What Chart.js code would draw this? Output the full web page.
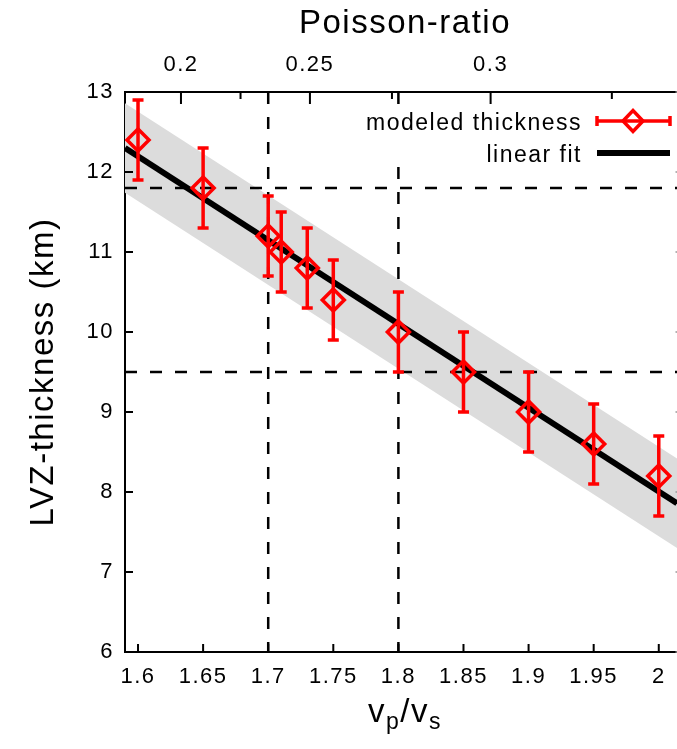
<!DOCTYPE html>
<html>
<head>
<meta charset="utf-8">
<script src="https://cdn.jsdelivr.net/npm/chart.js@4.4.1/dist/chart.umd.min.js"></script>
<style>
  html, body { margin: 0; padding: 0; background: #fff; overflow: hidden; }
  canvas { display: block; }
</style>
</head>
<body>
<canvas id="lvzChart" width="677" height="749"></canvas>
<script>
// Values
const vpvs = [1.6, 1.65, 1.7, 1.71, 1.73, 1.75, 1.8, 1.85, 1.9, 1.95, 2.0];
const thickness = [12.4, 11.8, 11.2, 11.0, 10.8, 10.4, 10.0, 9.5, 9.0, 8.6, 8.2];
const thicknessErr = [0.5, 0.5, 0.5, 0.5, 0.5, 0.5, 0.5, 0.5, 0.5, 0.5, 0.5];

const fitX = [1.59, 2.014];
const fitY = [12.3, 7.86];
const bandUpper = [12.86, 8.42];
const bandLower = [11.74, 7.30];

const refThickness = [11.8, 9.5];
const refVpvs = [1.7, 1.8];

const xTicks = [1.6, 1.65, 1.7, 1.75, 1.8, 1.85, 1.9, 1.95, 2.0];
const yTicks = [6, 7, 8, 9, 10, 11, 12, 13];
const poissonTicks = [0.2, 0.225, 0.25, 0.275, 0.3, 0.325];
const poissonLabels = ['0.2', '', '0.25', '', '0.3', ''];

// the plot frame is cut by the right edge of the picture
const X_MIN = 1.59, X_MAX = 2.014, Y_MIN = 6, Y_MAX = 13;
const FONT = "'Liberation Sans', Arial, Helvetica, sans-serif";
const RED = '#ff0000';

Chart.defaults.font.family = FONT;
Chart.defaults.font.size = 22;
Chart.defaults.color = '#000';

function poissonToVpVs(nu) {
    return Math.sqrt((2 - 2 * nu) / (1 - 2 * nu));
}

function xyPairs(xs, ys) {
    return xs.map((x, i) => ({ x: x, y: ys[i] }));
}

// gnuplot text is a bit wider than Arial, add some spacing
const spacingPlugin = {
    id: 'spacing',
    beforeDraw(chart) {
        chart.ctx.letterSpacing = '1.5px';
    }
};

// Error bars, drawn right after the fit line and before the diamonds
const errorBarsPlugin = {
    id: 'errorBars',
    afterDatasetDraw(chart, args) {
        if (args.index !== 1) return;
        const { ctx, scales: { x, y } } = chart;
        ctx.save();
        ctx.strokeStyle = RED;
        ctx.lineWidth = 3.5;
        vpvs.forEach((v, i) => {
            const px = x.getPixelForValue(v);
            const top = y.getPixelForValue(thickness[i] + thicknessErr[i]);
            const bot = y.getPixelForValue(thickness[i] - thicknessErr[i]);
            ctx.beginPath();
            ctx.moveTo(px, top); ctx.lineTo(px, bot);
            ctx.moveTo(px - 5.5, top); ctx.lineTo(px + 5.5, top);
            ctx.moveTo(px - 5.5, bot); ctx.lineTo(px + 5.5, bot);
            ctx.stroke();
        });
        ctx.restore();
    }
};

// Inward tick marks, legend box and axis titles
const decorPlugin = {
    id: 'decor',
    afterDatasetsDraw(chart) {
        const { ctx, chartArea: a, scales: { x, y, x2 } } = chart;
        ctx.save();
        ctx.strokeStyle = '#000';
        ctx.lineWidth = 2;
        ctx.beginPath();
        xTicks.forEach(v => {
            const px = x.getPixelForValue(v);
            ctx.moveTo(px, a.bottom); ctx.lineTo(px, a.bottom - 8);
        });
        yTicks.forEach(v => {
            const py = y.getPixelForValue(v);
            ctx.moveTo(a.left, py); ctx.lineTo(a.left + 8, py);
        });
        poissonTicks.forEach((nu, i) => {
            const px = x2.getPixelForValue(poissonToVpVs(nu));
            ctx.moveTo(px, a.top); ctx.lineTo(px, a.top + (poissonLabels[i] ? 12 : 7));
        });
        ctx.stroke();
        // ends of the right-hand ticks peeking in at the edge
        ctx.strokeStyle = '#999';
        ctx.lineWidth = 1.5;
        ctx.beginPath();
        yTicks.forEach(v => {
            const py = y.getPixelForValue(v);
            ctx.moveTo(a.right, py); ctx.lineTo(a.right - 1.5, py);
        });
        ctx.stroke();

        // legend
        ctx.fillStyle = '#fff';
        ctx.fillRect(355, 106, a.right - 355, 59);
        ctx.fillStyle = '#000';
        ctx.font = '23px ' + FONT;
        ctx.textAlign = 'right';
        ctx.textBaseline = 'alphabetic';
        ctx.fillText('modeled thickness', 582, 130);
        ctx.fillText('linear fit', 582, 162);

        const l0 = 597, l1 = 670, lc = 633, r1 = 121, r2 = 153;
        ctx.strokeStyle = RED;
        ctx.lineWidth = 3.5;
        ctx.beginPath();
        ctx.moveTo(l0, r1); ctx.lineTo(l1, r1);
        ctx.moveTo(l0, r1 - 5); ctx.lineTo(l0, r1 + 5);
        ctx.moveTo(l1, r1 - 5); ctx.lineTo(l1, r1 + 5);
        ctx.stroke();
        ctx.beginPath();
        ctx.moveTo(lc - 10, r1); ctx.lineTo(lc, r1 - 10.5);
        ctx.lineTo(lc + 10, r1); ctx.lineTo(lc, r1 + 10.5);
        ctx.closePath();
        ctx.stroke();
        ctx.strokeStyle = '#000';
        ctx.lineWidth = 6;
        ctx.beginPath();
        ctx.moveTo(l0, r2); ctx.lineTo(l1, r2);
        ctx.stroke();
        ctx.restore();
    },
    afterDraw(chart) {
        const { ctx, chartArea: a } = chart;
        // centre of the full frame, which ends just past the picture
        const cx = (a.left + a.right + 8) / 2;
        ctx.save();
        ctx.fillStyle = '#000';
        ctx.textBaseline = 'alphabetic';
        ctx.textAlign = 'center';
        ctx.font = '33px ' + FONT;
        ctx.fillText('Poisson-ratio', cx, 33);

        ctx.save();
        ctx.translate(53, (a.top + a.bottom) / 2);
        ctx.rotate(-Math.PI / 2);
        ctx.fillText('LVZ-thickness (km)', 0, 0);
        ctx.restore();

        // v_p / v_s with subscripts
        const big = '33px ' + FONT, small = '23px ' + FONT;
        const parts = [['v', big, 0], ['p', small, 7], ['/', big, 0], ['v', big, 0], ['s', small, 7]];
        let total = 0;
        parts.forEach(p => { ctx.font = p[1]; p.push(ctx.measureText(p[0]).width); total += p[3]; });
        let px = cx - total / 2;
        ctx.textAlign = 'left';
        parts.forEach(p => {
            ctx.font = p[1];
            ctx.fillText(p[0], px, 722 + p[2]);
            px += p[3];
        });
        ctx.restore();
    }
};

function createThicknessChart() {
    const ctx = document.getElementById('lvzChart');
    const noFill = 'rgba(0, 0, 0, 0)';
    const dashed = { showLine: true, borderColor: '#000', borderWidth: 2.5, borderDash: [12, 13], pointRadius: 0 };

    new Chart(ctx, {
        type: 'scatter',
        data: {
            datasets: [
                {
                    label: 'modeled thickness',
                    data: xyPairs(vpvs, thickness),
                    pointStyle: 'rectRot',
                    pointRadius: 11,
                    pointBorderWidth: 3.5,
                    pointBorderColor: RED,
                    pointBackgroundColor: noFill
                },
                {
                    label: 'linear fit',
                    data: xyPairs(fitX, fitY),
                    showLine: true,
                    borderColor: '#000',
                    borderWidth: 6,
                    pointRadius: 0
                },
                Object.assign({ data: xyPairs([X_MIN, X_MAX], [refThickness[0], refThickness[0]]) }, dashed),
                Object.assign({ data: xyPairs([X_MIN, X_MAX], [refThickness[1], refThickness[1]]) }, dashed),
                Object.assign({ data: xyPairs([refVpvs[0], refVpvs[0]], [Y_MAX, Y_MIN]) }, dashed),
                Object.assign({ data: xyPairs([refVpvs[1], refVpvs[1]], [Y_MAX, Y_MIN]) }, dashed),
                {
                    data: xyPairs(fitX, bandUpper),
                    showLine: true,
                    fill: '+1',
                    backgroundColor: '#dcdcdc',
                    borderColor: noFill,
                    borderWidth: 0,
                    pointRadius: 0
                },
                {
                    data: xyPairs(fitX, bandLower),
                    showLine: true,
                    borderColor: noFill,
                    borderWidth: 0,
                    pointRadius: 0
                }
            ]
        },
        options: {
            responsive: false,
            animation: false,
            events: [],
            layout: { padding: 0, autoPadding: false },
            plugins: {
                legend: { display: false },
                tooltip: { enabled: false }
            },
            scales: {
                x: {
                    type: 'linear',
                    position: 'bottom',
                    min: X_MIN,
                    max: X_MAX,
                    grid: { display: false, drawTicks: false },
                    border: { display: true, color: '#000', width: 2 },
                    afterBuildTicks: s => { s.ticks = xTicks.map(v => ({ value: v })); },
                    afterFit: s => { s.height = 97; },
                    ticks: {
                        autoSkip: false,
                        maxRotation: 0,
                        padding: 12,
                        callback: v => String(+v.toFixed(2))
                    }
                },
                x2: {
                    type: 'linear',
                    axis: 'x',
                    position: 'top',
                    min: X_MIN,
                    max: X_MAX,
                    grid: { display: false, drawTicks: false },
                    border: { display: true, color: '#000', width: 2 },
                    afterBuildTicks: s => { s.ticks = poissonTicks.map(nu => ({ value: poissonToVpVs(nu) })); },
                    afterFit: s => { s.height = 92; },
                    ticks: {
                        autoSkip: false,
                        maxRotation: 0,
                        padding: 14,
                        callback: (v, i) => poissonLabels[i]
                    }
                },
                y: {
                    type: 'linear',
                    position: 'left',
                    min: Y_MIN,
                    max: Y_MAX,
                    grid: { display: false, drawTicks: false },
                    border: { display: true, color: '#000', width: 2 },
                    afterBuildTicks: s => { s.ticks = yTicks.map(v => ({ value: v })); },
                    afterFit: s => { s.width = 125; },
                    ticks: {
                        padding: 11,
                        callback: v => String(v)
                    }
                }
            }
        },
        plugins: [spacingPlugin, errorBarsPlugin, decorPlugin]
    });
}

try {
    createThicknessChart();
} catch (error) {
    console.error('Chart error:', error);
}
</script>
</body>
</html>
